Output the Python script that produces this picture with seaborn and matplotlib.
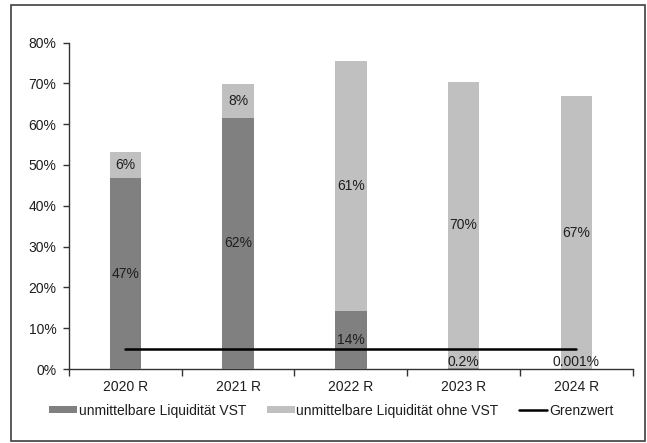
import numpy as np
import pandas as pd
import matplotlib.pyplot as plt
import seaborn as sns
from matplotlib.patches import Patch, Rectangle
from matplotlib.lines import Line2D

# =========================
# DATA
# =========================

years = ["2020 R", "2021 R", "2022 R", "2023 R", "2024 R"]
vst = [46.8, 61.6, 14.2, 0.2, 0.001]
ohne_vst = [6.4, 8.3, 61.3, 70.2, 66.8]
grenzwert = [5, 5, 5, 5, 5]
vst_labels = ["47%", "62%", "14%", "0.2%", "0.001%"]
ohne_labels = ["6%", "8%", "61%", "70%", "67%"]
y_ticks = [0, 10, 20, 30, 40, 50, 60, 70, 80]

dark = "#808080"
light = "#c0c0c0"
txt = "#1e1e1e"

df = pd.DataFrame({"year": years, "vst": vst, "ohne": ohne_vst})
df["total"] = df["vst"] + df["ohne"]

# =========================
# PLOT
# =========================

sns.set_style("white")
plt.rcParams["font.family"] = ["Liberation Sans", "DejaVu Sans"]

fig = plt.figure(figsize=(6.47, 4.43), dpi=100)
ax = fig.add_axes([0.1066, 0.167, 0.8714, 0.737])

sns.barplot(data=df, x="year", y="total", color=light, width=0.28,
            saturation=1, linewidth=0, edgecolor="none", ax=ax, zorder=2)
sns.barplot(data=df, x="year", y="vst", color=dark, width=0.28,
            saturation=1, linewidth=0, edgecolor="none", ax=ax, zorder=3)
sns.lineplot(x=np.arange(len(years)), y=grenzwert, color="black",
             linewidth=1.8, ax=ax, zorder=4)

# segment labels
for i in range(len(years)):
    y1 = max(vst[i] / 2, 1.8)
    ax.text(i, y1, vst_labels[i], ha="center", va="center",
            fontsize=10, color=txt, zorder=5)
    y2 = vst[i] + ohne_vst[i] / 2
    ax.text(i, y2, ohne_labels[i], ha="center", va="center",
            fontsize=10, color=txt, zorder=5)

ax.set_xlim(-0.5, len(years) - 0.5)
ax.set_ylim(0, 80)
ax.set_yticks(y_ticks)
ax.set_yticklabels([f"{v}%" for v in y_ticks], fontsize=10, color=txt)
ax.tick_params(axis="y", direction="out", length=4, width=1,
               color="#333333", pad=5, left=True)
ax.set_xticks(range(len(years)))
ax.set_xticklabels(years, fontsize=10, color=txt)
ax.tick_params(axis="x", length=0, pad=8)
ax.set_xticks(np.arange(-0.5, len(years)), minor=True)
ax.tick_params(axis="x", which="minor", direction="out", length=5,
               width=1, color="#333333", bottom=True)
ax.set_xlabel("")
ax.set_ylabel("")

for s in ["top", "right"]:
    ax.spines[s].set_visible(False)
for s in ["left", "bottom"]:
    ax.spines[s].set_color("#333333")
    ax.spines[s].set_linewidth(1)

# =========================
# LEGEND
# =========================

handles = [Patch(facecolor=dark, edgecolor="none"),
           Patch(facecolor=light, edgecolor="none"),
           Line2D([0], [0], color="black", linewidth=1.8)]
names = ["unmittelbare Liquidität VST", "unmittelbare Liquidität ohne VST",
         "Grenzwert"]
fig.legend(handles, names, loc="center", bbox_to_anchor=(0.512, 0.073),
           ncol=3, frameon=False, fontsize=10, handlelength=2.0,
           handleheight=0.4, handletextpad=0.12, columnspacing=1.5,
           labelcolor=txt)

# outer frame
fig.patches.append(Rectangle((11 / 647, 2 / 443), 634 / 647, 436 / 443,
                             transform=fig.transFigure, fill=False,
                             edgecolor="#404040", linewidth=1.2))

fig.savefig("out.png", dpi=100)
